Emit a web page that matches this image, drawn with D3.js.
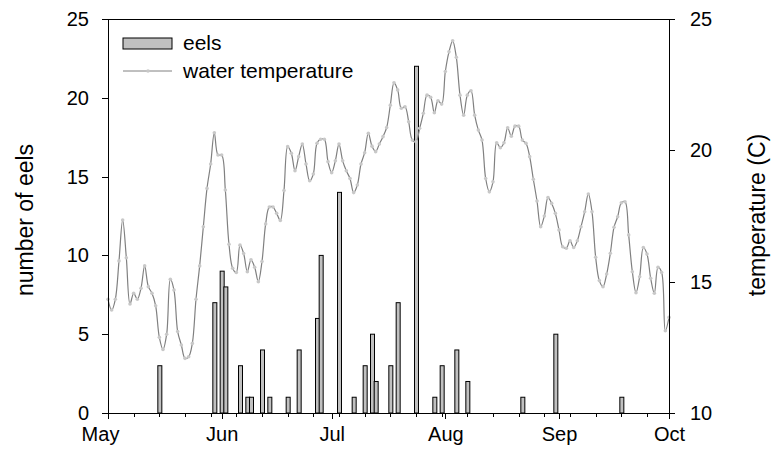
<!DOCTYPE html>
<html>
<head>
<meta charset="utf-8">
<script src="https://cdn.jsdelivr.net/npm/d3@7"></script>
<style>
  body { margin: 0; background: #fff; }
  svg text { font-family: Arial, "Liberation Sans", sans-serif; fill: #000; }
  .axis path, .axis line { stroke: #000; stroke-width: 1; shape-rendering: crispEdges; }
</style>
</head>
<body>
<div class="vis-holder"></div>
<script>
// eel catches: date (month/day) and count
var eelDates = ["5/15", "5/30", "6/1", "6/2", "6/6", "6/8", "6/9", "6/12", "6/14", "6/19",
                "6/22", "6/27", "6/28", "7/3", "7/7", "7/10", "7/12", "7/13", "7/17", "7/19",
                "7/24", "7/29", "7/31", "8/4", "8/7", "8/22", "8/31", "9/18"];
var eelCounts = [3, 7, 9, 8, 3, 1, 1, 4, 1, 1,
                 4, 6, 10, 14, 1, 3, 5, 2, 3, 7,
                 22, 1, 3, 4, 2, 1, 5, 1];

// daily water temperature, May 1 to Oct 1
var tempStart = "5/1";
var waterTemp = [14.33, 13.92, 14.33, 15.79, 17.35, 15.91, 14.15, 14.56, 14.33, 14.75,
                 15.6, 14.81, 14.56, 14.08, 12.88, 12.42, 13.0, 15.09, 14.68, 13.1,
                 12.59, 12.08, 12.14, 12.65, 14.33, 15.6, 17.09, 18.55, 19.48, 20.67,
                 19.82, 19.82, 18.49, 16.42, 15.51, 15.35, 16.39, 16.07, 15.38, 15.83,
                 15.55, 15.0, 15.77, 17.2, 17.84, 17.84, 17.6, 17.33, 18.47, 20.14,
                 19.89, 19.22, 19.76, 20.24, 19.48, 18.84, 19.1, 20.27, 20.42, 20.42,
                 19.57, 19.15, 19.6, 20.24, 19.6, 19.22, 18.93, 18.39, 18.68, 19.48,
                 19.91, 20.65, 20.16, 19.95, 20.24, 20.52, 20.87, 21.72, 22.57, 22.3,
                 21.6, 21.66, 21.09, 20.39, 20.33, 20.84, 21.41, 22.1, 22.02, 21.43,
                 21.89, 21.76, 23.0, 23.75, 24.17, 23.54, 22.1, 21.34, 22.1, 22.27,
                 21.34, 20.77, 20.39, 18.93, 18.42, 18.8, 20.29, 20.1, 20.29, 20.86,
                 20.54, 20.92, 20.92, 20.39, 20.27, 19.76, 18.9, 18.07, 17.09, 17.5,
                 18.2, 17.98, 17.6, 16.97, 16.33, 16.27, 16.56, 16.3, 16.56, 17.09,
                 17.66, 18.34, 17.66, 15.93, 15.04, 14.81, 15.29, 16.08, 17.07, 17.47,
                 18.0, 18.04, 16.78, 15.38, 14.58, 15.19, 16.3, 16.05, 15.13, 14.56,
                 15.55, 15.35, 13.13, 13.64];

var monthTicks = ["5/1", "6/1", "7/1", "8/1", "9/1", "10/1"];
var monthLabels = ["May", "Jun", "Jul", "Aug", "Sep", "Oct"];
var eelTicks = [0, 5, 10, 15, 20, 25];
var tempTicks = [10, 15, 20, 25];

var year = 2010;
function toDate(s) {
	var p = s.split("/");
	return new Date(year, +p[0] - 1, +p[1]);
}

var eelData = eelDates.map(function(d, i) { return { date: toDate(d), n: eelCounts[i] }; });
var t0 = toDate(tempStart);
var tempData = waterTemp.map(function(v, i) {
	return { date: d3.timeDay.offset(t0, i), temp: v };
});

var width = 775;
var height = 466;
var margin = { top: 19, bottom: 53, left: 108, right: 106 };

var svg = d3.select(".vis-holder")
			.append("svg")
			.attr("width", width)
			.attr("height", height);

var xScale = d3.scaleTime()
			   .domain([toDate(monthTicks[0]), toDate(monthTicks[monthTicks.length - 1])])
			   .range([margin.left, width - margin.right]);

var yScale = d3.scaleLinear()
			   .domain([0, 25])
			   .range([height - margin.bottom, margin.top]);

var y2Scale = d3.scaleLinear()
				.domain([10, 25])
				.range([height - margin.bottom, margin.top]);

// top border
svg.append("line")
   .attr("x1", margin.left).attr("x2", width - margin.right)
   .attr("y1", margin.top + 0.5).attr("y2", margin.top + 0.5)
   .attr("stroke", "#000")
   .attr("shape-rendering", "crispEdges");

// bars
svg.append("g")
   .selectAll("rect")
   .data(eelData)
   .enter()
   .append("rect")
   .attr("x", function(d) { return xScale(d.date) - 1.5; })
   .attr("y", function(d) { return yScale(d.n); })
   .attr("width", 4)
   .attr("height", function(d) { return yScale(0) - yScale(d.n); })
   .attr("fill", "#c0c0c0")
   .attr("stroke", "#000")
   .attr("stroke-width", 1);

// temperature line
var line = d3.line()
			 .x(function(d) { return xScale(d.date); })
			 .y(function(d) { return y2Scale(d.temp); })
			 .curve(d3.curveCatmullRom);

svg.append("path")
   .attr("d", line(tempData))
   .attr("fill", "none")
   .attr("stroke", "#808080")
   .attr("stroke-width", 1.2);

svg.append("g")
   .selectAll("circle")
   .data(tempData)
   .enter()
   .append("circle")
   .attr("cx", function(d) { return xScale(d.date); })
   .attr("cy", function(d) { return y2Scale(d.temp); })
   .attr("r", 1.8)
   .attr("fill", "#c8c8c8");

// x axis: weekly minor ticks, monthly major ticks
var weekTicks = d3.range(0, 154, 7).map(function(i) { return d3.timeDay.offset(t0, i); });
svg.append("g")
   .attr("class", "axis")
   .attr("transform", `translate(0, ${height - margin.bottom})`)
   .call(d3.axisBottom(xScale).tickValues(weekTicks).tickSize(4).tickFormat(""))
   .call(function(g) { g.select(".domain").remove(); });

var xAxis = svg.append("g")
			   .attr("class", "axis")
			   .attr("transform", `translate(0, ${height - margin.bottom})`)
			   .call(d3.axisBottom(xScale)
			   		   .tickValues(monthTicks.map(toDate))
			   		   .tickSize(6)
			   		   .tickSizeOuter(0)
			   		   .tickPadding(8)
			   		   .tickFormat(function(d, i) { return monthLabels[i]; }));
xAxis.selectAll("text").style("font-size", "20px");
// first month label sits a little left of its tick in the original
xAxis.selectAll("text").filter(function(d, i) { return i === 0; }).attr("dx", -8);

var yAxis = svg.append("g")
			   .attr("class", "axis")
			   .attr("transform", `translate(${margin.left}, 0)`)
			   .call(d3.axisLeft(yScale).tickValues(eelTicks).tickSize(6).tickSizeOuter(0).tickPadding(13));
yAxis.selectAll("text").style("font-size", "20px");

var y2Axis = svg.append("g")
				.attr("class", "axis")
				.attr("transform", `translate(${width - margin.right}, 0)`)
				.call(d3.axisRight(y2Scale).tickValues(tempTicks).tickSize(6).tickSizeOuter(0).tickPadding(15));
y2Axis.selectAll("text").style("font-size", "20px");

// axis titles
svg.append("text")
   .attr("text-anchor", "middle")
   .attr("transform", "translate(33,220)rotate(-90)")
   .style("font-size", "23px")
   .text("number of eels");

svg.append("text")
   .attr("text-anchor", "middle")
   .attr("transform", "translate(765,215)rotate(-90)")
   .style("font-size", "23px")
   .text("temperature (C)");

// legend
var legend = svg.append("g").attr("transform", "translate(123, 38)");
legend.append("rect")
	  .attr("x", 0).attr("y", 0)
	  .attr("width", 49).attr("height", 11)
	  .attr("fill", "#c0c0c0")
	  .attr("stroke", "#000");
legend.append("text")
	  .attr("x", 60).attr("y", 12)
	  .style("font-size", "21px")
	  .text("eels");
legend.append("line")
	  .attr("x1", 0).attr("x2", 49)
	  .attr("y1", 33).attr("y2", 33)
	  .attr("stroke", "#808080");
legend.append("circle")
	  .attr("cx", 25).attr("cy", 33).attr("r", 1.8)
	  .attr("fill", "#c8c8c8");
legend.append("text")
	  .attr("x", 60).attr("y", 40)
	  .style("font-size", "21px")
	  .text("water temperature");
</script>
</body>
</html>
